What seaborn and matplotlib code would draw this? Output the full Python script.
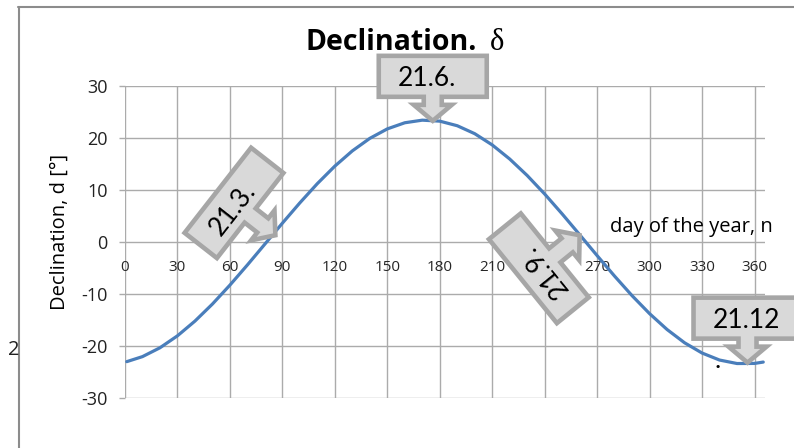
import matplotlib
matplotlib.use("Agg")
import matplotlib.pyplot as plt
import seaborn as sns
import pandas as pd
from matplotlib.transforms import Affine2D, ScaledTranslation
from matplotlib.patches import Polygon
from matplotlib.lines import Line2D

# ---- data ----
days = [1, 10, 20, 30, 40, 50, 60, 70, 80, 90, 100, 110, 120, 130, 140, 150,
        160, 170, 180, 190, 200, 210, 220, 230, 240, 250, 260, 270, 280, 290,
        300, 310, 320, 330, 340, 350, 360, 365]
declination = [-23.01, -22.04, -20.34, -18.04, -15.21, -11.93, -8.29, -4.41,
               -0.40, 3.62, 7.53, 11.23, 14.59, 17.52, 19.93, 21.75, 22.93,
               23.43, 23.24, 22.36, 20.83, 18.67, 15.96, 12.79, 9.23, 5.40,
               1.41, -2.62, -6.57, -10.33, -13.78, -16.83, -19.38, -21.35,
               -22.70, -23.37, -23.35, -23.09]
x_ticks = [0, 30, 60, 90, 120, 150, 180, 210, 240, 270, 300, 330, 360]
y_ticks = [-30, -20, -10, 0, 10, 20, 30]
y_tick_labels = ["-30", "-20", "-10", "0", "10", "20", "30"]
callout_labels = ["21.3.", "21.6.", "21.9.", "21.12"]
callout_days = [86, 176, 260, 356]
callout_values = [1.3, 23.3, 1.3, -23.2]
callout_angles = [52, 0, 129, 0]
callout_stretch = [8, 0, 8, 0]

df = pd.DataFrame({"day": days, "decl": declination})

sns.set_theme(style="white")
plt.rcParams["font.family"] = ["Open Sans", "DejaVu Sans"]

W, H = 794, 448
fig = plt.figure(figsize=(W / 100, H / 100), dpi=100)
ax = fig.add_axes([125 / W, 50 / H, 640 / W, 312 / H])

sns.lineplot(data=df, x="day", y="decl", ax=ax, color="#4A7EBB", lw=2.3, zorder=3)

ax.set_xlim(0, 366)
ax.set_ylim(-30, 30)
ax.set_xticks(x_ticks)
ax.set_xticklabels([str(v) for v in x_ticks], family=["Liberation Serif"], fontsize=13, color="#222222")
ax.set_yticks(y_ticks)
ax.set_yticklabels(y_tick_labels, fontsize=13, color="#222222")
ax.set_xlabel("")
ax.set_ylabel("")
ax.grid(True, color="#ABABAB", lw=1.0)
for s in ["top", "right", "left"]:
    ax.spines[s].set_visible(False)
ax.spines["bottom"].set_position(("data", 0))
ax.spines["bottom"].set_visible(False)
ax.tick_params(axis="x", length=0, pad=13)
ax.tick_params(axis="y", length=4.5, width=1.0, color="#ABABAB", pad=8, left=True)

# title
fig.text(306 / W, 1 - 50 / H, "Declination.", fontsize=20.5, fontweight="bold",
         ha="left", va="baseline", color="black", zorder=10)
fig.text(490 / W, 1 - 50 / H, "δ", fontsize=22, family=["Liberation Serif", "DejaVu Serif"],
         ha="left", va="baseline", color="black", zorder=10)

# axis titles
fig.text(60 / W, 1 - 232 / H, "Declination, d [°]", rotation=90, fontsize=14.5,
         ha="center", va="center", color="black")
fig.text(610 / W, 1 - 227 / H, "day of the year, n", fontsize=14.5,
         ha="left", va="center", color="black")
fig.text(8 / W, 1 - 350 / H, "2", fontsize=14.5, ha="left", va="center", color="#222222")

# chart frame
fig.add_artist(Line2D([18.5 / W, 18.5 / W], [0, 1 - 7.5 / H], transform=fig.transFigure,
                      color="#8C8C8C", lw=1.5))
fig.add_artist(Line2D([18 / W, 1], [1 - 7.5 / H, 1 - 7.5 / H], transform=fig.transFigure,
                      color="#8C8C8C", lw=1.5))


def callout_shape(ext):
    b = 24 + ext
    return [(-54, b), (-9, b), (-9, 16), (-19, 16), (0, 0), (19, 16), (9, 16),
            (9, b), (54, b), (54, b + 41), (-54, b + 41)]


for lab, d, v, ang, ext in zip(callout_labels, callout_days, callout_values,
                               callout_angles, callout_stretch):
    tr = Affine2D().rotate_deg(ang) + ScaledTranslation(d, v, ax.transData)
    poly = Polygon(callout_shape(ext), closed=True, transform=tr, facecolor="#D9D9D9",
                   edgecolor="#A6A6A6", lw=3.3, joinstyle="miter", clip_on=False, zorder=6)
    ax.add_artist(poly)
    ax.text(-35, 42 + ext, lab, transform=tr, rotation=ang, rotation_mode="anchor",
            ha="left", va="center", fontsize=19, family=["Lato", "DejaVu Sans"],
            color="black", zorder=7, clip_on=False)
    if lab == "21.12":
        ax.text(-33, 2, ".", transform=tr, ha="left", va="center", fontsize=19,
                family=["Lato", "DejaVu Sans"], color="black", zorder=7, clip_on=False)

fig.savefig("out.png", dpi=100)
